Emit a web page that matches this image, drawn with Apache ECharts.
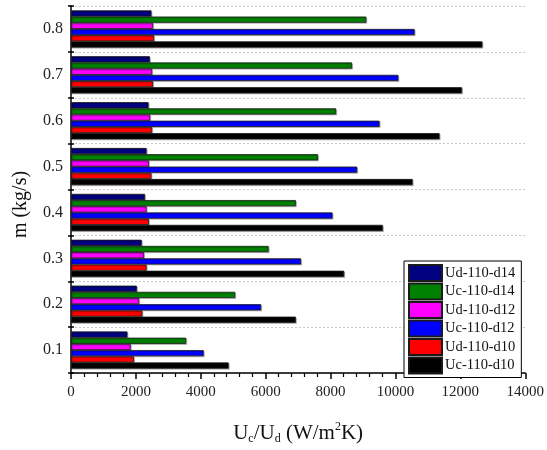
<!DOCTYPE html>
<html>
<head>
<meta charset="utf-8">
<script src="https://cdn.jsdelivr.net/npm/echarts@6/dist/echarts.min.js"></script>
<style>
  html, body { margin: 0; padding: 0; background: #fff; }
  #chart { width: 547px; height: 450px; }
</style>
</head>
<body>
<div id="chart"></div>
<script>
// mass flow categories (kg/s)
const categories = ['0.1', '0.2', '0.3', '0.4', '0.5', '0.6', '0.7', '0.8'];
const xTicks = [0, 2000, 4000, 6000, 8000, 10000, 12000, 14000];

const seriesNames = ['Ud-110-d14', 'Uc-110-d14', 'Ud-110-d12', 'Uc-110-d12', 'Ud-110-d10', 'Uc-110-d10'];
const ud14 = [1740, 2030, 2180, 2280, 2330, 2390, 2430, 2480];
const uc14 = [3550, 5060, 6090, 6930, 7610, 8170, 8660, 9100];
const ud12 = [1840, 2100, 2250, 2330, 2400, 2440, 2500, 2530];
const uc12 = [4090, 5860, 7090, 8060, 8820, 9510, 10090, 10590];
const ud10 = [1940, 2200, 2330, 2400, 2480, 2500, 2530, 2560];
const uc10 = [4860, 6930, 8420, 9610, 10530, 11360, 12050, 12680];
const colors = ['#000080', '#008000', '#ff00ff', '#0000ff', '#ff0000', '#000000'];

const allData = [ud14, uc14, ud12, uc12, ud10, uc10];
const serif = 'Liberation Serif';

const chart = echarts.init(document.getElementById('chart'));

const series = seriesNames.map((name, i) => ({
  name: name,
  type: 'bar',
  data: allData[i],
  barWidth: 6.2,
  barGap: '0%',
  animation: false,
  itemStyle: {
    color: colors[i],
    borderColor: '#1a1a1a',
    borderWidth: 0.8,
    shadowColor: 'rgba(0,0,0,0.25)',
    shadowOffsetX: 1,
    shadowOffsetY: 1,
    shadowBlur: 0
  }
}));

const option = {
  backgroundColor: '#fff',
  animation: false,
  grid: { left: 71, right: 20, top: 6, bottom: 70 },
  legend: {
    data: seriesNames,
    orient: 'vertical',
    left: 404,
    top: 261,
    itemWidth: 33,
    itemHeight: 16,
    itemGap: 0.5,
    padding: [3, 6, 3, 4],
    borderColor: '#000',
    borderWidth: 1,
    backgroundColor: '#fff',
    icon: 'rect',
    textStyle: { fontFamily: serif, fontSize: 14.5, lineHeight: 16, color: '#111', padding: [0, 0, 0, -2] }
  },
  xAxis: {
    type: 'value',
    min: 0,
    max: 14000,
    interval: 2000,
    name: 'U{sub|c}/U{sub|d} (W/m{sup|2}K)',
    nameLocation: 'middle',
    nameGap: 48,
    nameTextStyle: {
      fontFamily: serif, fontSize: 21, color: '#111',
      rich: {
        sub: { fontFamily: serif, fontSize: 12, color: '#111', verticalAlign: 'bottom', padding: [12, 0, 0, 0] },
        sup: { fontFamily: serif, fontSize: 12, color: '#111', verticalAlign: 'top', padding: [0, 0, 10, 0] }
      }
    },
    axisLine: { show: true, lineStyle: { color: '#000', width: 1.5 } },
    axisTick: { show: true, length: 6, lineStyle: { color: '#000', width: 1.5 } },
    minorTick: { show: true, splitNumber: 5, length: 4, lineStyle: { color: '#000', width: 1.2 } },
    axisLabel: {
      fontFamily: serif, fontSize: 15, color: '#222', margin: 12,
      formatter: v => xTicks.includes(v) ? String(v) : ''
    },
    splitLine: { show: false }
  },
  yAxis: [
    {
      type: 'category',
      data: categories,
      name: 'm (kg/s)',
      nameLocation: 'middle',
      nameGap: 40,
      nameTextStyle: { fontFamily: serif, fontSize: 20, color: '#111', padding: [0, 30, 0, 0] },
      axisLine: { show: true, lineStyle: { color: '#000', width: 1.5 } },
      axisTick: { show: true, length: 3, lineStyle: { color: '#000', width: 1.5 } },
      axisLabel: { fontFamily: serif, fontSize: 16, color: '#222', margin: 8 },
      splitLine: { show: true, lineStyle: { color: '#c8c8c8', type: [2, 2], width: 1 } }
    },
    {
      type: 'category',
      data: categories,
      position: 'left',
      axisLine: { show: false },
      axisTick: { show: true, inside: true, length: 3, lineStyle: { color: '#000', width: 1.5 } },
      axisLabel: { show: false },
      splitLine: { show: false }
    }
  ],
  series: series
};

chart.setOption(option);
</script>
</body>
</html>
